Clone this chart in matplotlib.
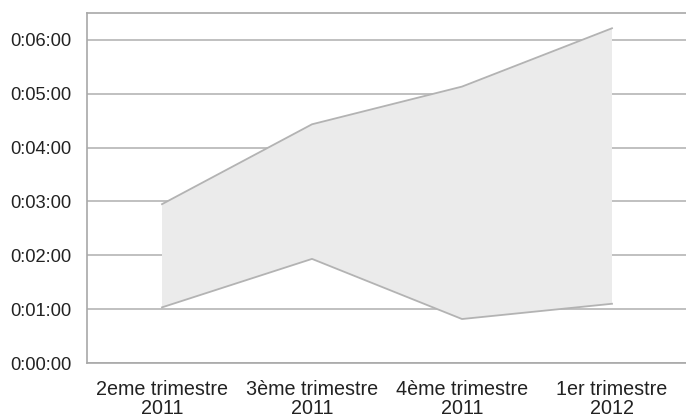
import matplotlib
matplotlib.use("Agg")
import matplotlib.pyplot as plt
from matplotlib.ticker import FuncFormatter

plt.rcParams['font.family'] = ['Liberation Sans', 'DejaVu Sans']

categories = ["2eme trimestre\n2011", "3ème trimestre\n2011", "4ème trimestre\n2011", "1er trimestre\n2012"]
# durations in seconds
upper_sec = [177, 266, 308, 373]
lower_sec = [62, 116, 49, 66]
y_ticks_sec = [0, 60, 120, 180, 240, 300, 360]

def fmt_duration(v, pos):
    v = int(round(v))
    return f"{v // 3600}:{(v % 3600) // 60:02d}:{v % 60:02d}"

fig = plt.figure(figsize=(6.86, 4.18), dpi=100)
ax = fig.add_axes([87 / 686, 1 - 363 / 418, 600 / 686, 350 / 418])

x = list(range(len(categories)))
ax.fill_between(x, lower_sec, upper_sec, facecolor="#ebebeb", edgecolor="none", zorder=2)
ax.plot(x, upper_sec, color="#b3b3b3", lw=1.3, zorder=3)
ax.plot(x, lower_sec, color="#b3b3b3", lw=1.3, zorder=3)

ax.set_xlim(-0.5, len(categories) - 0.5)
ax.set_ylim(0, 390)
ax.set_yticks(y_ticks_sec)
ax.yaxis.set_major_formatter(FuncFormatter(fmt_duration))
ax.set_xticks(x)
ax.set_xticklabels(categories, linespacing=1.0)
ax.tick_params(axis="y", labelsize=13.2, length=0, pad=11.5, colors="#222222")
ax.tick_params(axis="x", labelsize=14.2, length=0, pad=12, colors="#222222")

ax.grid(axis="y", color="#b5b5b5", lw=1.2, zorder=1)
for s in ["left", "bottom", "top", "right"]:
    ax.spines[s].set_color("#a8a8a8")
    ax.spines[s].set_linewidth(1.2)
ax.spines["right"].set_visible(False)

fig.savefig("out.png", dpi=100)
